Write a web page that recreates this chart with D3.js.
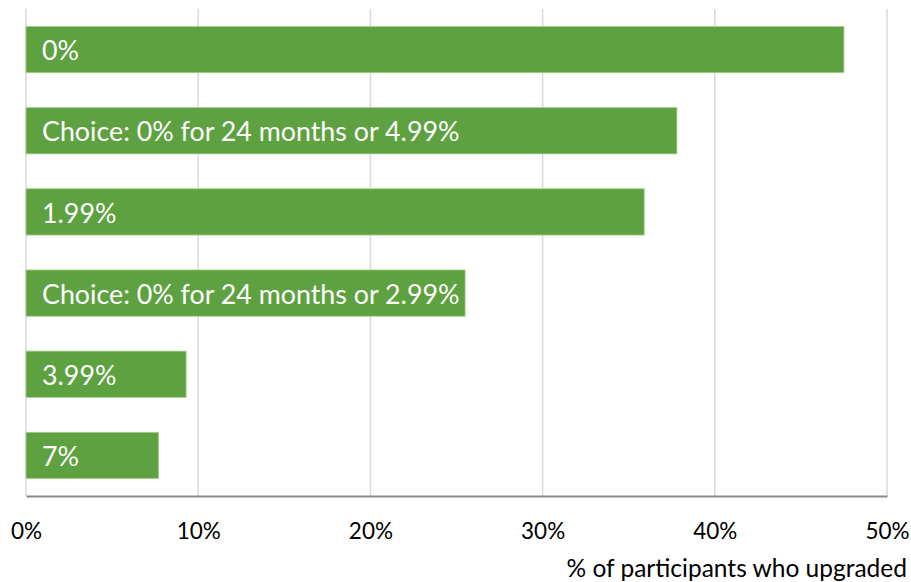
<!DOCTYPE html>
<html>
<head>
<meta charset="utf-8">
<script src="https://cdn.jsdelivr.net/npm/d3@7"></script>
<style>
  body { margin: 0; background: #fff; }
  svg text { font-family: Lato, "Open Sans", sans-serif; }
</style>
</head>
<body>
<div id="chart"></div>
<script>
const categories = [
  "0%",
  "Choice: 0% for 24 months or 4.99%",
  "1.99%",
  "Choice: 0% for 24 months or 2.99%",
  "3.99%",
  "7%"
];
const upgraded = [47.5, 37.8, 35.9, 25.5, 9.3, 7.7];
const ticks = [0, 10, 20, 30, 40, 50];
const axisTitle = "% of participants who upgraded";

const width = 911, height = 582;
const margin = { top: 9, right: 24, bottom: 86, left: 26 };

const svg = d3.select('#chart')
  .append('svg')
  .attr('width', width)
  .attr('height', height);

const x = d3.scaleLinear()
  .domain([0, 50])
  .range([margin.left, width - margin.right]);

const y = d3.scaleBand()
  .domain(categories)
  .range([margin.top, height - margin.bottom])
  .paddingInner(0.43)
  .paddingOuter(0.215);

// gridlines
svg.append('g')
  .selectAll('line')
  .data(ticks)
  .enter()
  .append('line')
  .attr('x1', d => x(d))
  .attr('x2', d => x(d))
  .attr('y1', margin.top)
  .attr('y2', height - margin.bottom)
  .attr('stroke', '#d9d9d9')
  .attr('stroke-width', 1.5);

// bars
svg.append('g')
  .selectAll('rect')
  .data(categories)
  .enter()
  .append('rect')
  .attr('x', x(0))
  .attr('y', d => y(d))
  .attr('width', (d, i) => x(upgraded[i]) - x(0))
  .attr('height', y.bandwidth())
  .attr('fill', '#5da140')
  .attr('stroke', '#a9d18e')
  .attr('stroke-width', 0.8);

// labels inside bars
svg.append('g')
  .selectAll('text')
  .data(categories)
  .enter()
  .append('text')
  .attr('x', x(0) + 16)
  .attr('y', d => y(d) + y.bandwidth() / 2)
  .attr('dy', '0.4em')
  .attr('fill', '#fff')
  .style('font-size', '26.8px')
  .text(d => d);

// x axis
const xAxis = d3.axisBottom(x)
  .tickValues(ticks)
  .tickFormat(d => d + '%')
  .tickSize(0)
  .tickPadding(27);

const gx = svg.append('g')
  .attr('transform', `translate(0,${height - margin.bottom})`)
  .call(xAxis);

gx.select('.domain')
  .attr('stroke', '#898989')
  .attr('stroke-width', 2);

gx.selectAll('text')
  .attr('fill', '#000')
  .style('font-size', '22.5px')
  .style('font-family', 'Lato, sans-serif');

svg.append('text')
  .attr('x', width - 4)
  .attr('y', 577)
  .attr('text-anchor', 'end')
  .attr('fill', '#000')
  .style('font-size', '24.5px')
  .text(axisTitle);
</script>
</body>
</html>
